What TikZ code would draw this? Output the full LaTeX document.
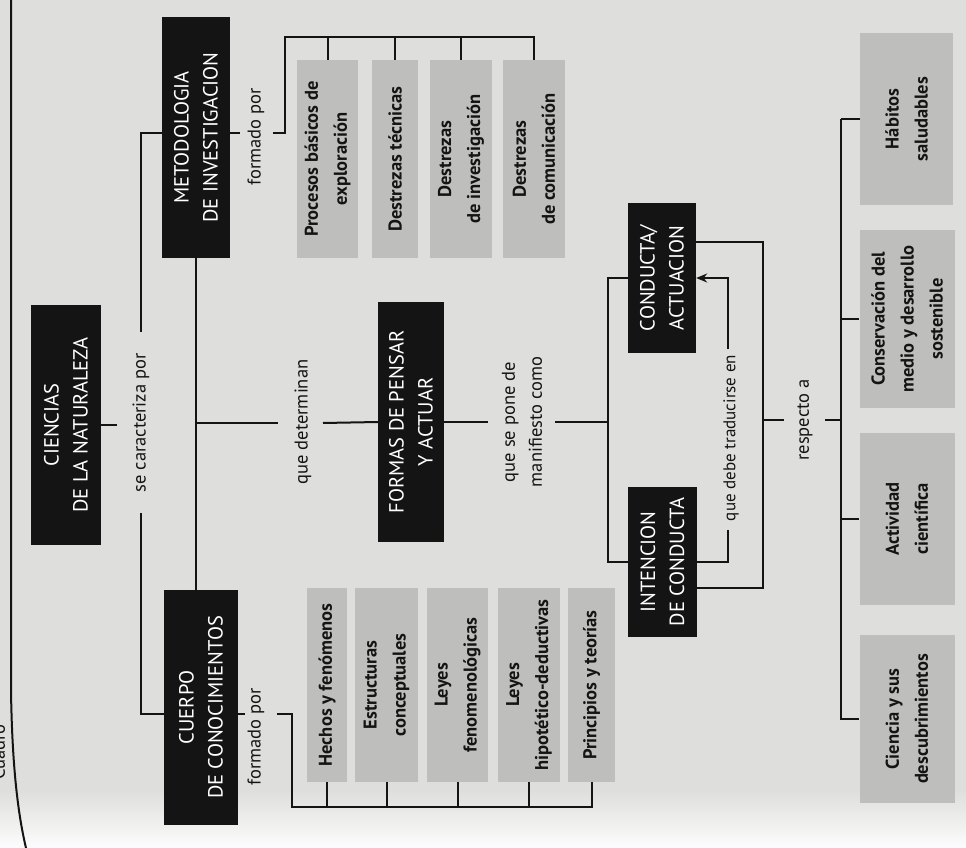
\documentclass[tikz,border=0pt]{standalone}
\usepackage{fontspec}
\setmainfont{PT Sans}
\usetikzlibrary{arrows.meta}
\definecolor{bg}{RGB}{222,222,220}
\definecolor{boxgray}{RGB}{190,190,188}
\definecolor{ink}{RGB}{20,20,20}
\begin{document}
\begin{tikzpicture}[x=1pt,y=-1pt,
  blk/.style={fill=ink,text=white,rotate=90,inner sep=0pt,align=center,font=\fontsize{20.5}{29}\selectfont},
  gbox/.style={fill=boxgray,text=ink,rotate=90,inner sep=0pt,align=center,font=\bfseries\fontsize{18.5}{29}\selectfont},
  lbl/.style={text=ink,rotate=90,inner sep=0pt,align=center,font=\fontsize{18.5}{27}\selectfont},
  ln/.style={draw=ink,line width=2pt}]
\useasboundingbox (0,0) rectangle (966,848);
\fill[bg] (0,0) rectangle (966,848);
\shade[top color=bg,bottom color=white!92!bg] (0,790) rectangle (966,848);
% page edge
\draw[ink,line width=2pt] (11,0) -- (11,690) .. controls (12,760) and (17,810) .. (26,848);
\node[lbl,anchor=base west] (cuadro) at (5,780) {Cuadro};

% black boxes
\node[blk,minimum width=241pt,minimum height=68pt] (meto) at (196,137.5) {METODOLOGIA\\DE INVESTIGACION};
\node[blk,minimum width=240pt,minimum height=70pt] (cien) at (66,425) {CIENCIAS\\DE LA NATURALEZA};
\node[blk,minimum width=235pt,minimum height=74pt] (cuer) at (201,707.5) {CUERPO\\DE CONOCIMIENTOS};
\node[blk,minimum width=240pt,minimum height=66pt] (formas) at (411,422) {FORMAS DE PENSAR\\Y ACTUAR};
\node[blk,minimum width=150pt,minimum height=68pt] (cond) at (662,278) {CONDUCTA/\\ACTUACION};
\node[blk,minimum width=150pt,minimum height=69pt] (inten) at (662.5,562) {INTENCION\\DE CONDUCTA};

% gray boxes top
\node[gbox,minimum width=198pt,minimum height=61pt] (p1) at (327.5,159) {Procesos básicos de\\exploración};
\node[gbox,minimum width=198pt,minimum height=46pt] (p2) at (395,159) {Destrezas técnicas};
\node[gbox,minimum width=198pt,minimum height=62pt] (p3) at (461,159) {Destrezas\\de investigación};
\node[gbox,minimum width=198pt,minimum height=62pt] (p4) at (534,159) {Destrezas\\de comunicación};

% gray boxes bottom
\node[gbox,minimum width=194pt,minimum height=40pt] (c1) at (327,685) {Hechos y fenómenos};
\node[gbox,minimum width=194pt,minimum height=63pt] (c2) at (386.5,685) {Estructuras\\conceptuales};
\node[gbox,minimum width=194pt,minimum height=61pt] (c3) at (457.5,685) {Leyes\\fenomenológicas};
\node[gbox,minimum width=194pt,minimum height=62pt] (c4) at (529,685) {Leyes\\hipotético-deductivas};
\node[gbox,minimum width=194pt,minimum height=47pt] (c5) at (591.5,685) {Principios y teorías};

% gray boxes right
\node[gbox,minimum width=172pt,minimum height=93pt] (r1) at (906.5,119) {Hábitos\\saludables};
\node[gbox,minimum width=178pt,minimum height=95pt] (r2) at (907,319) {Conservación del\\medio y desarrollo\\sostenible};
\node[gbox,minimum width=172pt,minimum height=95pt] (r3) at (907,519) {Actividad\\científica};
\node[gbox,minimum width=168pt,minimum height=95pt] (r4) at (907,719) {Ciencia y sus\\descubrimientos};

% labels
\node[lbl] (form1) at (256,137) {formado por};
\node[lbl] (form2) at (256,737) {formado por};
\node[lbl] (caract) at (141,423) {se caracteriza por};
\node[lbl] (determ) at (303,422) {que determinan};
\node[lbl] (pone) at (522,422) {que se pone de\\manifiesto como};
\node[lbl,font=\fontsize{17}{24}\selectfont] (traduc) at (731,438) {que debe traducirse en};
\node[lbl] (respec) at (805,420) {respecto a};

% connectors: ciencias
\draw[ln] (cien.south) -- ++(16,0);
\draw[ln] (meto.north |- 0,133) -- (141,133) -- (141,332);
\draw[ln] (cuer.north |- 0,714) -- (141,714) -- (141,513);
\draw[ln] (meto.west) -- (meto.west |- cuer.east);
\draw[ln] (196,423) -- (278,423);
\draw[ln] (323,423) -- (formas.north);
\draw[ln] (formas.south) -- (488,422);
\draw[ln] (555,422) -- (608,422);
\draw[ln] (cond.north) -- ++(-20,0) |- (inten.north);
% que debe traducirse en
\draw[ln] (inten.south) -- (728,562) -- (728,530);
\draw[ln,-{Stealth[length=11pt,width=9pt]}] (728,349) -- (728,278) -- (cond.south);
% outer bracket
\draw[ln] (cond.south |- 0,242) -- (763,242) -- (763,588) -- (inten.south |- 0,588);
\draw[ln] (763,420) -- (784,420);
\draw[ln] (825,420) -- (841,420);
\draw[ln] (841,119) -- (841,720);
\foreach \n in {r1,r2,r3,r4} \draw[ln] (\n.north) -- ++(-19,0);
% metodologia group
\draw[ln] (meto.south |- 0,133) -- (240,133);
\draw[ln] (273,133) -- (285,133) -- (285,37) -- (p4.east |- 0,37) -- (p4.east);
\foreach \n in {p1,p2,p3} \draw[ln] (\n.east) -- (\n.east |- 0,37);
% cuerpo group
\draw[ln] (cuer.south |- 0,714) -- (245,714);
\draw[ln] (277,714) -- (292,714) -- (292,807) -- (c5.west |- 0,807) -- (c5.west);
\foreach \n in {c1,c2,c3,c4} \draw[ln] (\n.west) -- (\n.west |- 0,807);
\end{tikzpicture}
\end{document}
